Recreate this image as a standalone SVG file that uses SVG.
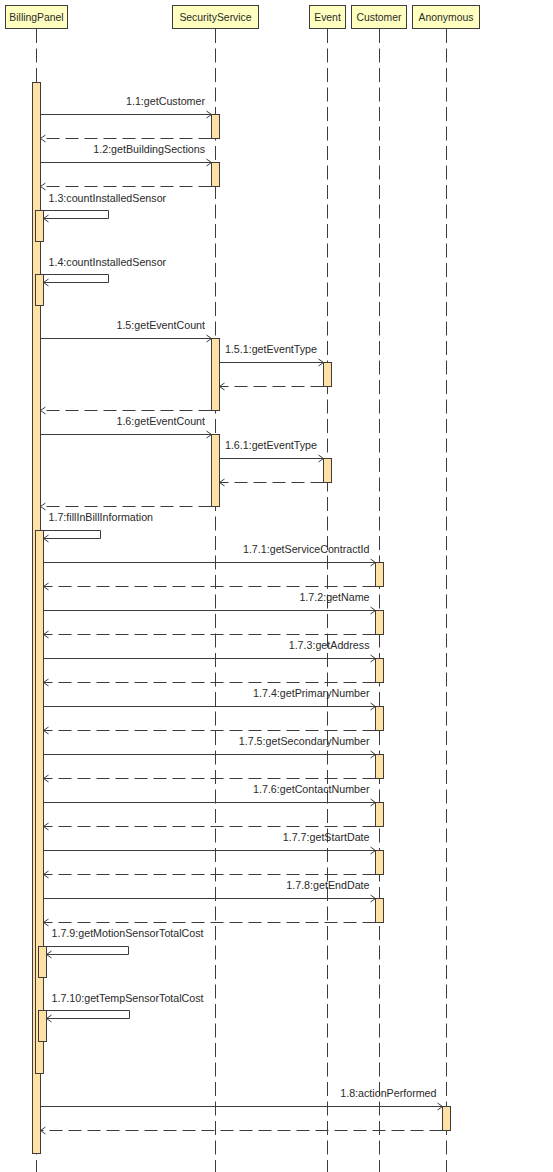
<svg xmlns="http://www.w3.org/2000/svg" width="553" height="1172" viewBox="0 0 553 1172">
  <style>
    text { font-family: "Liberation Sans", Arial, sans-serif; font-size: 10.7px; fill: #2a2a2a; }
    .name { text-anchor: middle; font-size: 10.4px; }
    .lbl { text-anchor: end; }
    .head { fill: #ffffc0; stroke: #3c3c3c; stroke-width: 1; }
    .life { stroke: #3c3c3c; stroke-width: 1; stroke-dasharray: 14 5.5; fill: none; }
    .act { fill: #ffe1a6; stroke: #3c3c3c; stroke-width: 1; }
    .call { stroke: #3c3c3c; stroke-width: 1; fill: none; marker-end: url(#open); }
    .ret { stroke: #3c3c3c; stroke-width: 1; fill: none; stroke-dasharray: 13 6; marker-end: url(#open); }
  </style>
  <defs>
    <marker id="open" markerUnits="userSpaceOnUse" viewBox="-7 -5 8 10" markerWidth="8" markerHeight="10" refX="0" refY="0" orient="auto">
      <path d="M-5,-3.5 L0,0 L-5,3.5" fill="none" stroke="#3c3c3c" stroke-width="1" stroke-dasharray="none"/>
    </marker>
  </defs>
  <rect width="553" height="1172" fill="#ffffff"/>

  <!-- participants: head, lifeline, activation bars -->
  <g id="BillingPanel">
    <line class="life" x1="36.5" y1="29" x2="36.5" y2="1172"/>
    <rect class="head" x="5.5" y="5.5" width="62" height="23"/>
    <text class="name" x="36.5" y="21">BillingPanel</text>
    <rect class="act" x="32.5" y="82.5" width="8" height="1071"/>
    <rect class="act" x="35.5" y="210.5" width="8" height="31"/>
    <rect class="act" x="35.5" y="274.5" width="8" height="31"/>
    <rect class="act" x="35.5" y="530.5" width="8" height="543"/>
    <rect class="act" x="38.5" y="946.5" width="8" height="31"/>
    <rect class="act" x="38.5" y="1010.5" width="8" height="31"/>
  </g>
  <g id="SecurityService">
    <line class="life" x1="215.5" y1="29" x2="215.5" y2="1172"/>
    <rect class="head" x="172.5" y="5.5" width="86" height="23"/>
    <text class="name" x="215.5" y="21">SecurityService</text>
    <rect class="act" x="211.5" y="114.5" width="8" height="24"/>
    <rect class="act" x="211.5" y="162.5" width="8" height="24"/>
    <rect class="act" x="211.5" y="338.5" width="8" height="72"/>
    <rect class="act" x="211.5" y="434.5" width="8" height="72"/>
  </g>
  <g id="Event">
    <line class="life" x1="327.5" y1="29" x2="327.5" y2="1172"/>
    <rect class="head" x="309.5" y="5.5" width="36" height="23"/>
    <text class="name" x="327.5" y="21">Event</text>
    <rect class="act" x="323.5" y="362.5" width="8" height="24"/>
    <rect class="act" x="323.5" y="458.5" width="8" height="24"/>
  </g>
  <g id="Customer">
    <line class="life" x1="379.5" y1="29" x2="379.5" y2="1172"/>
    <rect class="head" x="351.5" y="5.5" width="55" height="23"/>
    <text class="name" x="379" y="21">Customer</text>
    <rect class="act" x="375.5" y="562.5" width="8" height="24"/>
    <rect class="act" x="375.5" y="610.5" width="8" height="24"/>
    <rect class="act" x="375.5" y="658.5" width="8" height="24"/>
    <rect class="act" x="375.5" y="706.5" width="8" height="24"/>
    <rect class="act" x="375.5" y="754.5" width="8" height="24"/>
    <rect class="act" x="375.5" y="802.5" width="8" height="24"/>
    <rect class="act" x="375.5" y="850.5" width="8" height="24"/>
    <rect class="act" x="375.5" y="898.5" width="8" height="24"/>
  </g>
  <g id="Anonymous">
    <line class="life" x1="446.5" y1="29" x2="446.5" y2="1172"/>
    <rect class="head" x="412.5" y="5.5" width="67" height="23"/>
    <text class="name" x="446" y="21">Anonymous</text>
    <rect class="act" x="442.5" y="1106.5" width="8" height="24"/>
  </g>

  <!-- messages -->
  <g id="connectors">
    <line class="call" x1="40.5" y1="114.5" x2="211.5" y2="114.5"/>
    <text class="lbl" x="205" y="105">1.1:getCustomer</text>
    <line class="ret" x1="211.5" y1="138.5" x2="40.5" y2="138.5"/>

    <line class="call" x1="40.5" y1="162.5" x2="211.5" y2="162.5"/>
    <text class="lbl" x="205" y="153">1.2:getBuildingSections</text>
    <line class="ret" x1="211.5" y1="186.5" x2="40.5" y2="186.5"/>

    <path class="call" d="M40.5,210.5 H108.5 V218.5 H43.5"/>
    <text x="48.5" y="202">1.3:countInstalledSensor</text>

    <path class="call" d="M40.5,274.5 H108.5 V282.5 H43.5"/>
    <text x="48.5" y="266">1.4:countInstalledSensor</text>

    <line class="call" x1="40.5" y1="338.5" x2="211.5" y2="338.5"/>
    <text class="lbl" x="205" y="329">1.5:getEventCount</text>
    <line class="call" x1="219.5" y1="362.5" x2="323.5" y2="362.5"/>
    <text class="lbl" x="317" y="353">1.5.1:getEventType</text>
    <line class="ret" x1="323.5" y1="386.5" x2="219.5" y2="386.5"/>
    <line class="ret" x1="211.5" y1="410.5" x2="40.5" y2="410.5"/>

    <line class="call" x1="40.5" y1="434.5" x2="211.5" y2="434.5"/>
    <text class="lbl" x="205" y="425">1.6:getEventCount</text>
    <line class="call" x1="219.5" y1="458.5" x2="323.5" y2="458.5"/>
    <text class="lbl" x="317" y="449">1.6.1:getEventType</text>
    <line class="ret" x1="323.5" y1="482.5" x2="219.5" y2="482.5"/>
    <line class="ret" x1="211.5" y1="506.5" x2="40.5" y2="506.5"/>

    <path class="call" d="M40.5,530.5 H100.5 V538.5 H43.5"/>
    <text x="48.5" y="521">1.7:fillInBillInformation</text>

    <line class="call" x1="43.5" y1="562.5" x2="375.5" y2="562.5"/>
    <text class="lbl" x="369.5" y="553">1.7.1:getServiceContractId</text>
    <line class="ret" x1="375.5" y1="586.5" x2="43.5" y2="586.5"/>

    <line class="call" x1="43.5" y1="610.5" x2="375.5" y2="610.5"/>
    <text class="lbl" x="369.5" y="601">1.7.2:getName</text>
    <line class="ret" x1="375.5" y1="634.5" x2="43.5" y2="634.5"/>

    <line class="call" x1="43.5" y1="658.5" x2="375.5" y2="658.5"/>
    <text class="lbl" x="369.5" y="649">1.7.3:getAddress</text>
    <line class="ret" x1="375.5" y1="682.5" x2="43.5" y2="682.5"/>

    <line class="call" x1="43.5" y1="706.5" x2="375.5" y2="706.5"/>
    <text class="lbl" x="369.5" y="697">1.7.4:getPrimaryNumber</text>
    <line class="ret" x1="375.5" y1="730.5" x2="43.5" y2="730.5"/>

    <line class="call" x1="43.5" y1="754.5" x2="375.5" y2="754.5"/>
    <text class="lbl" x="369.5" y="745">1.7.5:getSecondaryNumber</text>
    <line class="ret" x1="375.5" y1="778.5" x2="43.5" y2="778.5"/>

    <line class="call" x1="43.5" y1="802.5" x2="375.5" y2="802.5"/>
    <text class="lbl" x="369.5" y="793">1.7.6:getContactNumber</text>
    <line class="ret" x1="375.5" y1="826.5" x2="43.5" y2="826.5"/>

    <line class="call" x1="43.5" y1="850.5" x2="375.5" y2="850.5"/>
    <text class="lbl" x="369.5" y="841">1.7.7:getStartDate</text>
    <line class="ret" x1="375.5" y1="874.5" x2="43.5" y2="874.5"/>

    <line class="call" x1="43.5" y1="898.5" x2="375.5" y2="898.5"/>
    <text class="lbl" x="369.5" y="889">1.7.8:getEndDate</text>
    <line class="ret" x1="375.5" y1="922.5" x2="43.5" y2="922.5"/>

    <path class="call" d="M43.5,946.5 H128.5 V954.5 H46.5"/>
    <text x="51.5" y="937">1.7.9:getMotionSensorTotalCost</text>

    <path class="call" d="M43.5,1010.5 H129.5 V1018.5 H46.5"/>
    <text x="51.5" y="1001.5">1.7.10:getTempSensorTotalCost</text>

    <line class="call" x1="40.5" y1="1106.5" x2="442.5" y2="1106.5"/>
    <text class="lbl" x="436.5" y="1097">1.8:actionPerformed</text>
    <line class="ret" x1="442.5" y1="1130.5" x2="40.5" y2="1130.5"/>
  </g>
</svg>
